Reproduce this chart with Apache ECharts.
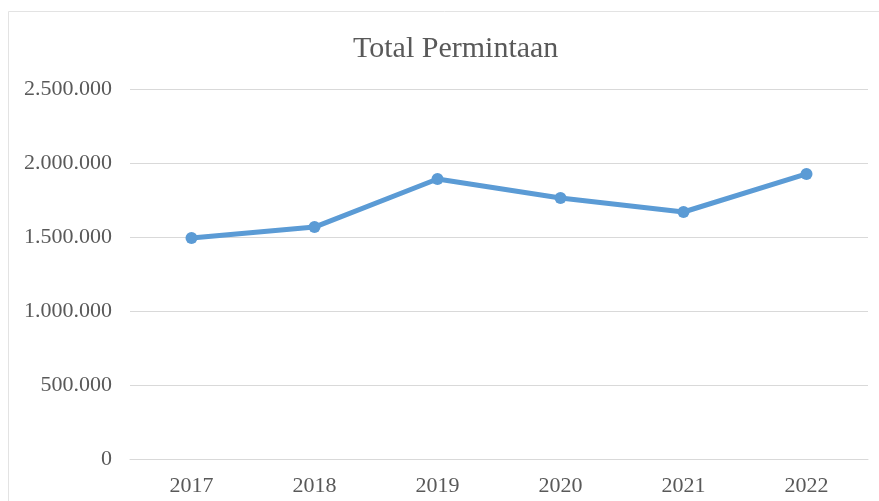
<!DOCTYPE html>
<html>
<head>
<meta charset="utf-8">
<script src="https://cdn.jsdelivr.net/npm/echarts@6/dist/echarts.min.js"></script>
<style>
  html, body { margin: 0; padding: 0; background: #fff; }
  #chart { width: 879px; height: 501px; }
</style>
</head>
<body>
<div id="chart"></div>
<script>
// data
var years = ['2017', '2018', '2019', '2020', '2021', '2022'];
var permintaan = [1493000, 1567000, 1892000, 1763000, 1669000, 1926000];
var yTicks = [0, 500000, 1000000, 1500000, 2000000, 2500000];

function fmt(v) {
  return String(v).replace(/\B(?=(\d{3})+(?!\d))/g, '.');
}

var myChart = echarts.init(document.getElementById('chart'));

var option = {
  animation: false,
  textStyle: { fontFamily: 'Liberation Serif' },
  graphic: [{
    type: 'rect',
    shape: { x: 8.5, y: 11.5, width: 1000, height: 1000 },
    style: { fill: 'none', stroke: '#e3e3e3', lineWidth: 1 },
    silent: true
  }],
  title: {
    text: 'Total Permintaan',
    left: 348,
    top: 29,
    textStyle: { fontFamily: 'Liberation Serif', fontSize: 30, fontWeight: 'normal', color: '#595959' }
  },
  grid: { left: 130, right: 11, top: 89, bottom: 42, containLabel: false },
  xAxis: {
    type: 'category',
    data: years,
    boundaryGap: true,
    axisLine: { show: true, lineStyle: { color: '#d9d9d9', width: 1 } },
    axisTick: { show: false },
    axisLabel: { fontFamily: 'Liberation Serif', fontSize: 22, color: '#595959', margin: 16 }
  },
  yAxis: {
    type: 'value',
    min: yTicks[0],
    max: yTicks[yTicks.length - 1],
    interval: 500000,
    axisLine: { show: false },
    axisTick: { show: false },
    splitLine: { lineStyle: { color: '#d9d9d9', width: 1 } },
    axisLabel: {
      fontFamily: 'Liberation Serif', fontSize: 22, color: '#595959', margin: 18,
      formatter: function (v) { return fmt(v); }
    }
  },
  series: [{
    name: 'Total Permintaan',
    type: 'line',
    data: permintaan,
    symbol: 'circle',
    symbolSize: 12,
    lineStyle: { color: '#5b9bd5', width: 5 },
    itemStyle: { color: '#5b9bd5' }
  }]
};

myChart.setOption(option);
</script>
</body>
</html>
